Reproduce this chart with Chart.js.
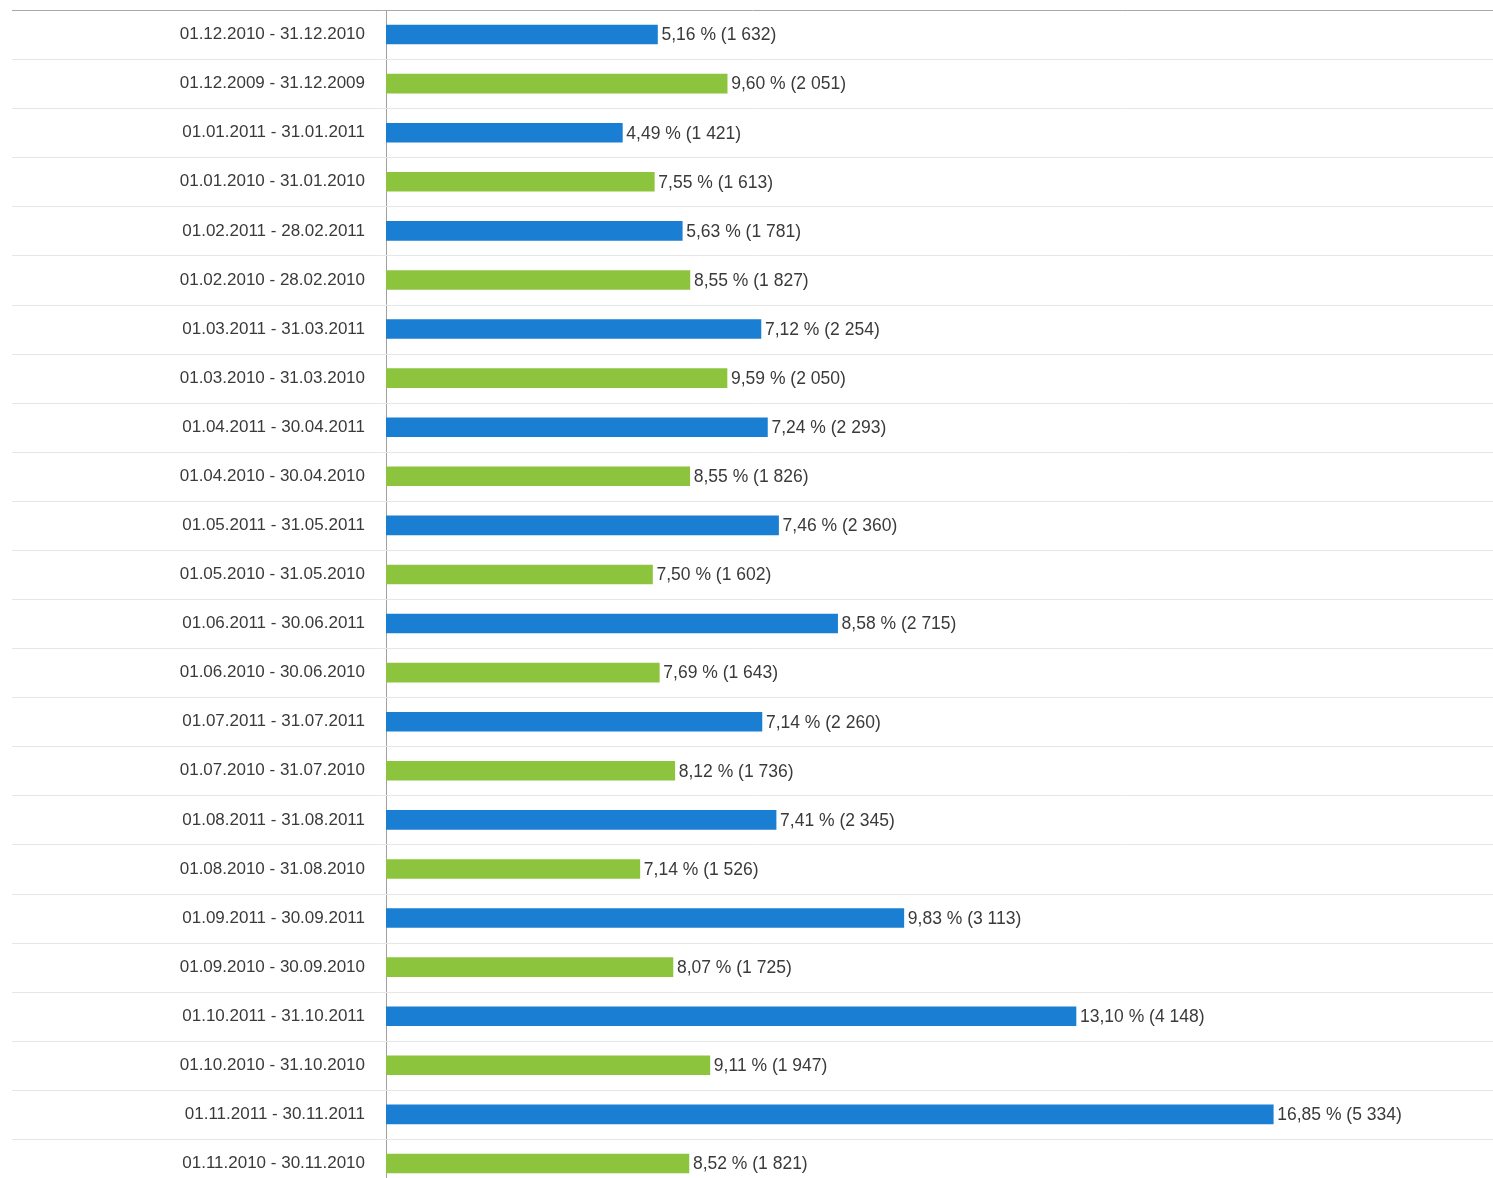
<!DOCTYPE html>
<html>
<head>
<meta charset="utf-8">
<script src="https://cdn.jsdelivr.net/npm/chart.js@4.4.1/dist/chart.umd.min.js"></script>
<style>
    html, body { margin: 0; padding: 0; background: #fff; overflow: hidden; }
    canvas { display: block; }
</style>
</head>
<body>
<canvas id="periodChart" width="1493" height="1188"></canvas>
<script>
// Period labels, top to bottom
const periods = [
    '01.12.2010 - 31.12.2010', '01.12.2009 - 31.12.2009',
    '01.01.2011 - 31.01.2011', '01.01.2010 - 31.01.2010',
    '01.02.2011 - 28.02.2011', '01.02.2010 - 28.02.2010',
    '01.03.2011 - 31.03.2011', '01.03.2010 - 31.03.2010',
    '01.04.2011 - 30.04.2011', '01.04.2010 - 30.04.2010',
    '01.05.2011 - 31.05.2011', '01.05.2010 - 31.05.2010',
    '01.06.2011 - 30.06.2011', '01.06.2010 - 30.06.2010',
    '01.07.2011 - 31.07.2011', '01.07.2010 - 31.07.2010',
    '01.08.2011 - 31.08.2011', '01.08.2010 - 31.08.2010',
    '01.09.2011 - 30.09.2011', '01.09.2010 - 30.09.2010',
    '01.10.2011 - 31.10.2011', '01.10.2010 - 31.10.2010',
    '01.11.2011 - 30.11.2011', '01.11.2010 - 30.11.2010'
];

// Counts (bar length)
const counts = [
    1632, 2051, 1421, 1613, 1781, 1827, 2254, 2050, 2293, 1826, 2360, 1602,
    2715, 1643, 2260, 1736, 2345, 1526, 3113, 1725, 4148, 1947, 5334, 1821
];

// Percent share (shown in label)
const percents = [
    '5,16', '9,60', '4,49', '7,55', '5,63', '8,55', '7,12', '9,59', '7,24', '8,55', '7,46', '7,50',
    '8,58', '7,69', '7,14', '8,12', '7,41', '7,14', '9,83', '8,07', '13,10', '9,11', '16,85', '8,52'
];

const BLUE = '#1a7fd2';
const GREEN = '#8cc43e';
const barColors = periods.map((p, i) => i % 2 === 0 ? BLUE : GREEN);
const FONT = '"Liberation Sans", Arial, sans-serif';

function formatCount(n) {
    return String(n).replace(/\B(?=(\d{3})+(?!\d))/g, ' ');
}

// row separators + top rule
const rowLines = {
    id: 'rowLines',
    beforeDatasetsDraw(chart) {
        const ctx = chart.ctx;
        const y = chart.scales.y;
        const n = periods.length;
        const step = y.height / n;
        ctx.save();
        ctx.lineWidth = 1;
        ctx.strokeStyle = '#e6e6e6';
        for (let i = 1; i < n; i++) {
            const py = Math.round(y.top + i * step) + 0.5;
            ctx.beginPath();
            ctx.moveTo(12, py);
            ctx.lineTo(chart.width, py);
            ctx.stroke();
        }
        ctx.strokeStyle = '#a8a8a8';
        ctx.beginPath();
        ctx.moveTo(12, y.top + 0.5);
        ctx.lineTo(chart.width, y.top + 0.5);
        ctx.stroke();
        ctx.restore();
    }
};

// value labels after bars
const valueLabels = {
    id: 'valueLabels',
    afterDatasetsDraw(chart) {
        const ctx = chart.ctx;
        const meta = chart.getDatasetMeta(0);
        ctx.save();
        ctx.font = '17.5px ' + FONT;
        ctx.fillStyle = '#3a3a3a';
        ctx.textAlign = 'left';
        ctx.textBaseline = 'middle';
        meta.data.forEach((bar, i) => {
            ctx.fillText(percents[i] + ' % (' + formatCount(counts[i]) + ')', bar.x + 4, bar.y + 1);
        });
        ctx.restore();
    }
};

new Chart(document.getElementById('periodChart'), {
    type: 'bar',
    data: {
        labels: periods,
        datasets: [{
            data: counts,
            backgroundColor: barColors,
            borderWidth: 0,
            barThickness: 19
        }]
    },
    plugins: [rowLines, valueLabels],
    options: {
        indexAxis: 'y',
        responsive: false,
        animation: false,
        layout: {
            padding: { top: 10, right: 0, bottom: 0, left: 0 }
        },
        plugins: {
            legend: { display: false },
            tooltip: { enabled: false }
        },
        scales: {
            x: {
                display: false,
                min: 0,
                max: 6655
            },
            y: {
                afterFit(scale) {
                    scale.width = 386;
                    scale.paddingTop = 0;
                    scale.paddingBottom = 0;
                },
                grid: {
                    display: false,
                    drawTicks: false
                },
                border: {
                    display: true,
                    color: '#a0a0a0',
                    width: 1
                },
                ticks: {
                    padding: 21,
                    color: '#3a3a3a',
                    font: {
                        family: FONT,
                        size: 17
                    }
                }
            }
        }
    }
});
</script>
</body>
</html>
